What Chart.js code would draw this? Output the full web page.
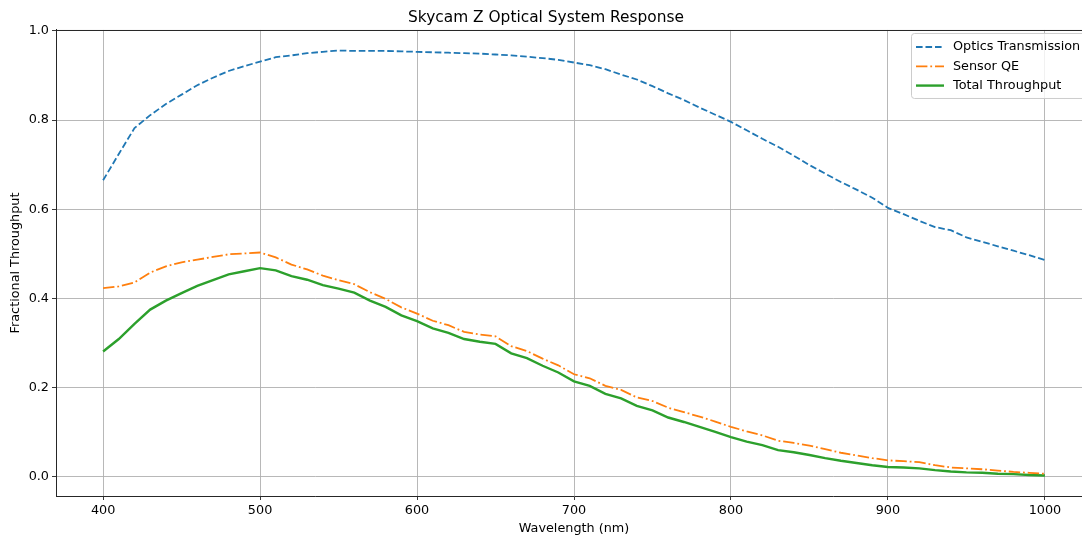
<!DOCTYPE html>
<html>
<head>
<meta charset="utf-8">
<title>Skycam Z Optical System Response</title>
<script src="https://cdn.jsdelivr.net/npm/chart.js@4/dist/chart.umd.min.js"></script>
<style>
    html, body { margin: 0; padding: 0; background: #fff; overflow: hidden; }
    #wrap { width: 1100px; height: 536px; }
</style>
</head>
<body>
<div id="wrap"><canvas id="chart" width="1100" height="536"></canvas></div>
<script>
// Wavelength grid (nm)
const wavelengths = [
    400, 410, 420, 430, 440, 450, 460, 470, 480, 490,
    500, 510, 520, 530, 540, 550, 560, 570, 580, 590,
    600, 610, 620, 630, 640, 650, 660, 670, 680, 690,
    700, 710, 720, 730, 740, 750, 760, 770, 780, 790,
    800, 810, 820, 830, 840, 850, 860, 870, 880, 890,
    900, 910, 920, 930, 940, 950, 960, 970, 980, 990, 1000
];

// Series
const opticsTransmission = [
    0.665, 0.724, 0.782, 0.811, 0.836, 0.857, 0.878, 0.895, 0.910, 0.921,
    0.931, 0.941, 0.945, 0.950, 0.953, 0.956, 0.955, 0.955, 0.955, 0.954,
    0.953, 0.952, 0.951, 0.950, 0.949, 0.947, 0.945, 0.942, 0.939, 0.935,
    0.929, 0.923, 0.914, 0.902, 0.891, 0.876, 0.860, 0.845, 0.828, 0.812,
    0.796, 0.777, 0.758, 0.740, 0.720, 0.699, 0.680, 0.661, 0.644, 0.626,
    0.603, 0.589, 0.574, 0.560, 0.553, 0.537, 0.527, 0.517, 0.507, 0.497, 0.486
];

const sensorQE = [
    0.423, 0.427, 0.436, 0.458, 0.472, 0.481, 0.487, 0.493, 0.499, 0.501,
    0.503, 0.492, 0.476, 0.465, 0.451, 0.441, 0.432, 0.414, 0.399, 0.380,
    0.366, 0.350, 0.340, 0.325, 0.319, 0.315, 0.293, 0.282, 0.265, 0.250,
    0.230, 0.221, 0.204, 0.195, 0.178, 0.170, 0.155, 0.145, 0.135, 0.124,
    0.112, 0.102, 0.093, 0.081, 0.076, 0.070, 0.062, 0.054, 0.048, 0.042,
    0.037, 0.035, 0.033, 0.026, 0.021, 0.019, 0.017, 0.014, 0.011, 0.009, 0.007
];

const totalThroughput = [
    0.281, 0.309, 0.343, 0.375, 0.395, 0.412, 0.428, 0.441, 0.454, 0.461,
    0.468, 0.463, 0.450, 0.442, 0.430, 0.422, 0.413, 0.395, 0.381, 0.362,
    0.349, 0.333, 0.323, 0.309, 0.303, 0.298, 0.277, 0.266, 0.249, 0.234,
    0.214, 0.204, 0.186, 0.176, 0.159, 0.149, 0.133, 0.123, 0.112, 0.101,
    0.089, 0.079, 0.071, 0.060, 0.055, 0.049, 0.042, 0.036, 0.031, 0.026,
    0.022, 0.021, 0.019, 0.015, 0.012, 0.010, 0.009, 0.007, 0.006, 0.004, 0.003
];

// Tick labels
const xTicks = [400, 500, 600, 700, 800, 900, 1000];
const yTicks = [0.0, 0.2, 0.4, 0.6, 0.8, 1.0];

const FONT = 'DejaVu Sans';
const GRID = '#b0b0b0';
const FS = 12.8;

const toPoints = (ys) => wavelengths.map((x, i) => ({ x: x, y: ys[i] }));

const seriesDefs = [
    { label: 'Optics Transmission', data: opticsTransmission, color: '#1f77b4', width: 1.8, dash: [6.6, 2.9] },
    { label: 'Sensor QE', data: sensorQE, color: '#ff7f0e', width: 1.8, dash: [11.4, 2.9, 1.8, 2.9] },
    { label: 'Total Throughput', data: totalThroughput, color: '#2ca02c', width: 2.4, dash: [] }
];

// top/right spines (matplotlib style frame)
const framePlugin = {
    id: 'frame',
    afterDatasetsDraw(chart) {
        const a = chart.chartArea;
        const ctx = chart.ctx;
        ctx.save();
        ctx.strokeStyle = '#262626';
        ctx.lineWidth = 1;
        ctx.beginPath();
        ctx.moveTo(a.left, a.top + 0.5);
        ctx.lineTo(a.right, a.top + 0.5);
        ctx.moveTo(a.right - 0.5, a.top);
        ctx.lineTo(a.right - 0.5, a.bottom);
        ctx.stroke();
        ctx.restore();
    }
};

// legend box in the upper right corner
const legendPlugin = {
    id: 'mplLegend',
    afterDraw(chart) {
        const ctx = chart.ctx;
        const a = chart.chartArea;
        const w = 175, h = 65;
        const x0 = a.right - 6 - w;
        const y0 = a.top + 3;
        ctx.save();
        ctx.beginPath();
        ctx.roundRect(x0 + 0.5, y0 + 0.5, w, h, 3);
        ctx.fillStyle = 'rgba(255,255,255,0.8)';
        ctx.fill();
        ctx.strokeStyle = '#cccccc';
        ctx.lineWidth = 1;
        ctx.stroke();
        ctx.font = FS + 'px "' + FONT + '"';
        ctx.textBaseline = 'middle';
        seriesDefs.forEach((s, i) => {
            const y = y0 + 14 + i * 19.3;
            ctx.beginPath();
            ctx.setLineDash(s.dash);
            ctx.strokeStyle = s.color;
            ctx.lineWidth = s.width;
            ctx.moveTo(x0 + 5, y);
            ctx.lineTo(x0 + 33, y);
            ctx.stroke();
            ctx.setLineDash([]);
            ctx.fillStyle = '#000';
            ctx.fillText(s.label, x0 + 42, y);
        });
        ctx.restore();
    }
};

const ctx = document.getElementById('chart').getContext('2d');
new Chart(ctx, {
    type: 'line',
    data: {
        datasets: seriesDefs.map(s => ({
            label: s.label,
            data: toPoints(s.data),
            borderColor: s.color,
            backgroundColor: s.color,
            borderWidth: s.width,
            borderDash: s.dash,
            pointRadius: 0,
            tension: 0,
            fill: false
        }))
    },
    options: {
        responsive: false,
        animation: false,
        devicePixelRatio: 1,
        layout: { padding: { left: 0, right: 8, top: 0, bottom: 0 } },
        plugins: {
            legend: { display: false },
            tooltip: { enabled: false },
            title: {
                display: true,
                text: 'Skycam Z Optical System Response',
                color: '#000',
                font: { family: FONT, size: 15.4, weight: 'normal', lineHeight: 1.2 },
                padding: { top: 8.5, bottom: 3 }
            }
        },
        scales: {
            x: {
                type: 'linear',
                min: 370,
                max: 1030,
                afterBuildTicks: (scale) => { scale.ticks = xTicks.map(v => ({ value: v })); },
                afterFit: (scale) => { scale.height = 40; },
                ticks: {
                    color: '#000',
                    font: { family: FONT, size: FS },
                    padding: 3,
                    maxRotation: 0,
                    callback: (v) => String(v)
                },
                grid: { color: GRID, lineWidth: 0.9, tickLength: 4, tickColor: '#222' },
                border: { display: true, color: '#262626', width: 1 },
                title: {
                    display: true,
                    text: 'Wavelength (nm)',
                    color: '#000',
                    font: { family: FONT, size: FS },
                    padding: { top: 0, bottom: 0 }
                }
            },
            y: {
                type: 'linear',
                min: -0.043,
                max: 1.002,
                afterBuildTicks: (scale) => { scale.ticks = yTicks.map(v => ({ value: v })); },
                afterFit: (scale) => { scale.width = 56; },
                ticks: {
                    color: '#000',
                    font: { family: FONT, size: FS },
                    padding: 3,
                    callback: (v) => Number(v).toFixed(1)
                },
                grid: { color: GRID, lineWidth: 0.9, tickLength: 4, tickColor: '#222' },
                border: { display: true, color: '#262626', width: 1 },
                title: {
                    display: true,
                    text: 'Fractional Throughput',
                    color: '#000',
                    font: { family: FONT, size: FS },
                    padding: { top: 8, bottom: 0 }
                }
            }
        }
    },
    plugins: [framePlugin, legendPlugin]
});
</script>
</body>
</html>
